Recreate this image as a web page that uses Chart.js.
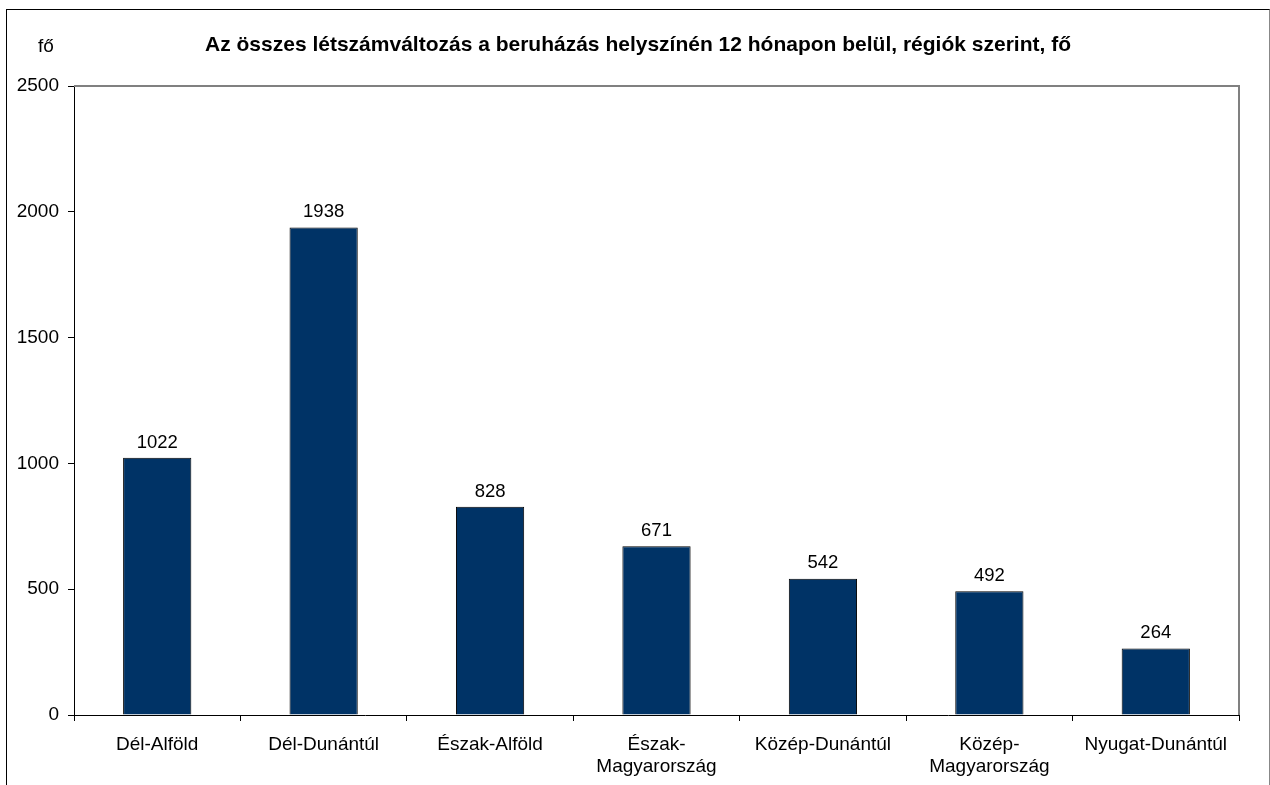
<!DOCTYPE html>
<html>
<head>
<meta charset="utf-8">
<script src="https://cdn.jsdelivr.net/npm/chart.js@4.4.0/dist/chart.umd.min.js"></script>
<style>
  html, body { margin: 0; padding: 0; background: #fff; overflow: hidden; }
  #wrap { position: relative; width: 1270px; height: 785px; }
  #frame { position: absolute; left: 6px; top: 9px; width: 1262px; height: 800px;
    border-top: 1px solid #000; border-left: 1px solid #000; border-right: 1px solid #888; }
  canvas { position: absolute; left: 0; top: 0; }
</style>
</head>
<body>
<div id="wrap">
  <div id="frame"></div>
  <canvas id="barChart" width="1270" height="785"></canvas>
</div>
<script>
const regions = ['Dél-Alföld', 'Dél-Dunántúl', 'Észak-Alföld', ['Észak-', 'Magyarország'], 'Közép-Dunántúl', ['Közép-', 'Magyarország'], 'Nyugat-Dunántúl'];
const letszam = [1022, 1938, 828, 671, 542, 492, 264];
const yTicks = [0, 500, 1000, 1500, 2000, 2500];
const chartTitle = 'Az összes létszámváltozás a beruházás helyszínén 12 hónapon belül, régiók szerint, fő';
const unitLabel = 'fő';

const fontFam = 'Arial, "Liberation Sans", sans-serif';

// title, unit, plot border and value labels
const decor = {
  id: 'decor',
  afterDatasetsDraw(chart) {
    const c = chart.ctx, a = chart.chartArea;
    c.save();
    c.fillStyle = '#000';
    c.font = 'bold 21px ' + fontFam;
    c.textAlign = 'center';
    c.textBaseline = 'middle';
    c.fillText(chartTitle, 638, 45);
    c.font = '19px ' + fontFam;
    c.fillText(unitLabel, 46, 47);

    // gray top and right border of the plot
    c.strokeStyle = '#808080';
    c.lineWidth = 2;
    c.beginPath();
    c.moveTo(a.left, a.top);
    c.lineTo(a.right, a.top);
    c.lineTo(a.right, a.bottom);
    c.stroke();

    c.fillStyle = '#000';
    c.font = '18.5px ' + fontFam;
    c.textBaseline = 'bottom';
    chart.getDatasetMeta(0).data.forEach((bar, i) => {
      c.fillText(letszam[i], bar.x, bar.y - 6);
    });
    c.restore();
  }
};

const ctx = document.getElementById('barChart').getContext('2d');
new Chart(ctx, {
  type: 'bar',
  data: {
    labels: regions,
    datasets: [{
      data: letszam,
      backgroundColor: '#003366',
      borderColor: '#000',
      borderWidth: 1,
      barPercentage: 0.41,
      categoryPercentage: 1
    }]
  },
  options: {
    responsive: false,
    animation: false,
    layout: { padding: { top: 86, right: 31, left: 0, bottom: 0 } },
    plugins: {
      legend: { display: false },
      tooltip: { enabled: false }
    },
    scales: {
      x: {
        afterFit(scale) { scale.height = 70; },
        grid: { drawOnChartArea: false, drawTicks: true, tickLength: 6, color: '#000', offset: true },
        border: { display: true, color: '#000', width: 1 },
        ticks: { color: '#000', font: { size: 19, family: fontFam }, padding: 12, maxRotation: 0, autoSkip: false }
      },
      y: {
        min: 0,
        max: 2500,
        afterFit(scale) { scale.width = 74; },
        afterBuildTicks(scale) { scale.ticks = yTicks.map(v => ({ value: v })); },
        grid: { drawOnChartArea: false, drawTicks: true, tickLength: 6, color: '#000' },
        border: { display: true, color: '#000', width: 1 },
        ticks: { color: '#000', font: { size: 19, family: fontFam }, padding: 9, callback: v => String(v) }
      }
    }
  },
  plugins: [decor]
});
</script>
</body>
</html>
